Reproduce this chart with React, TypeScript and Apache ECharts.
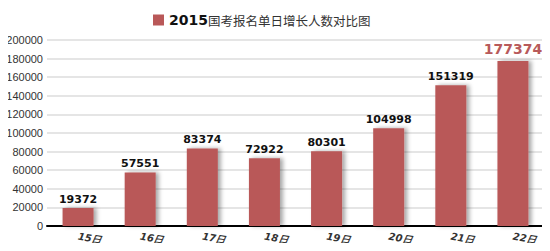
import React, { useEffect, useRef } from "react";
import * as echarts from "echarts";

const categories = ["15日", "16日", "17日", "18日", "19日", "20日", "21日", "22日"];
const values = [19372, 57551, 83374, 72922, 80301, 104998, 151319, 177374];
const yTicks = [0, 20000, 40000, 60000, 80000, 100000, 120000, 140000, 160000, 180000, 200000];
const seriesName = "2015国考报名单日增长人数对比图";

export default function App() {
  const ref = useRef<HTMLDivElement>(null);
  useEffect(() => {
    const chart = echarts.init(ref.current!, null, { renderer: "svg" });
    const last = values.length - 1;
    chart.setOption({
      animation: false,
      backgroundColor: "#fff",
      legend: {
        data: [seriesName],
        top: 8,
        left: 148,
        icon: "rect",
        itemWidth: 11,
        itemHeight: 11,
        itemGap: 8,
        formatter: () => "{a|2015}{b|国考报名单日增长人数对比图}",
        textStyle: {
          rich: {
            a: { fontSize: 14, fontWeight: "bold", color: "#111", fontFamily: "DejaVu Sans" },
            b: { fontSize: 12.5, color: "#333", fontFamily: "Noto Sans CJK SC" },
          },
        },
      },
      grid: { left: 47, right: 6, top: 40, bottom: 25, containLabel: false, outerBoundsMode: "none" },
      xAxis: {
        type: "category",
        data: categories,
        axisLine: { lineStyle: { color: "#000", width: 2 } },
        axisTick: { length: 5, lineStyle: { color: "#000", width: 2 } },
        axisLabel: {
          color: "#333",
          fontSize: 10,
          fontStyle: "italic",
          fontWeight: "bold",
          fontFamily: "DejaVu Sans",
          rotate: -10,
          margin: 10,
        },
      },
      yAxis: {
        type: "value",
        min: yTicks[0],
        max: yTicks[yTicks.length - 1],
        interval: 20000,
        axisLine: { show: false },
        axisTick: { show: false },
        axisLabel: {
          color: "#333",
          fontSize: 11,
          fontFamily: "Liberation Sans",
          margin: 4,
          align: "right",
          overflow: "none",
          formatter: (v: number) => String(v),
        },
        splitLine: { lineStyle: { color: "#ddd", width: 1.5 } },
      },
      series: [
        {
          name: seriesName,
          type: "bar",
          barWidth: 31,
          data: values.map((v, i) => ({
            value: v,
            label:
              i === last
                ? { fontSize: 14, color: "#b85a5a", fontWeight: "bold", distance: 5 }
                : undefined,
          })),
          itemStyle: {
            color: "#b95858",
            shadowColor: "rgba(0,0,0,0.35)",
            shadowBlur: 4,
            shadowOffsetX: 3,
            shadowOffsetY: 0,
          },
          label: {
            show: true,
            position: "top",
            distance: 3,
            color: "#111",
            fontSize: 11,
            fontWeight: "bold",
            fontFamily: "DejaVu Sans",
          },
        },
      ],
    });
    return () => chart.dispose();
  }, []);
  return <div ref={ref} style={{ width: 550, height: 251, margin: -8 }} />;
}
